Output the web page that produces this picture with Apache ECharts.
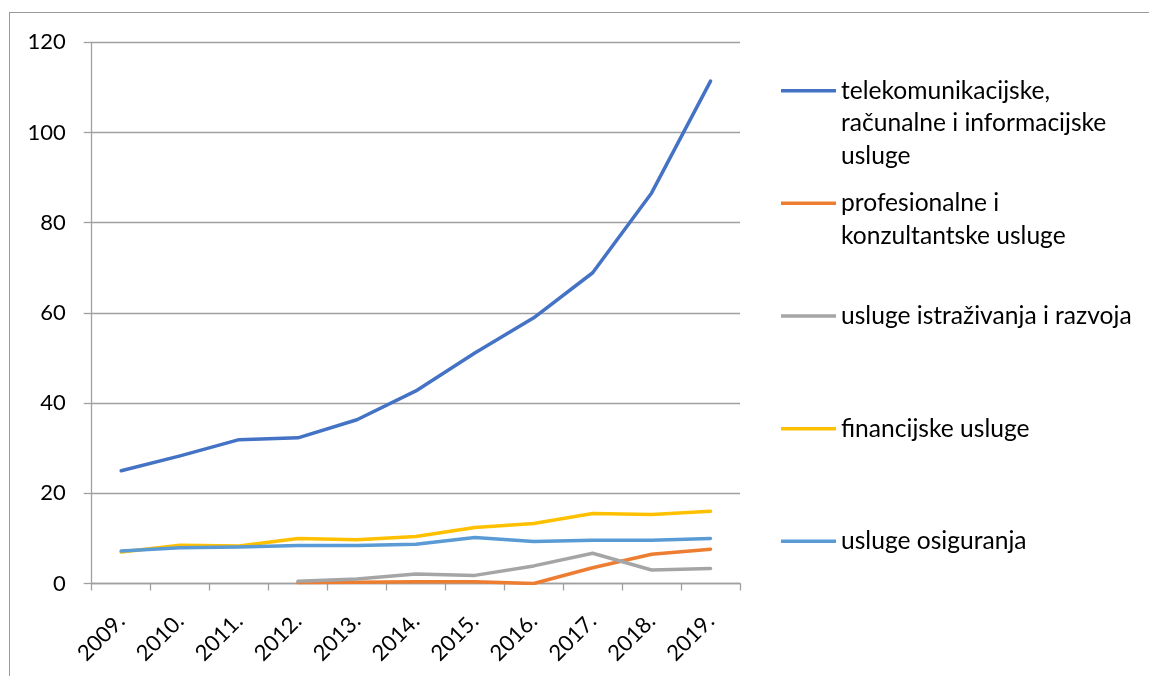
<!DOCTYPE html>
<html>
<head>
<meta charset="utf-8">
<script src="https://cdn.jsdelivr.net/npm/echarts@6/dist/echarts.min.js"></script>
<style>
  html, body { margin: 0; padding: 0; background: #fff; }
  #frame { position: absolute; left: 9px; top: 12px; width: 1200px; height: 700px; border-left: 1.5px solid #9a9a9a; border-top: 1.5px solid #9a9a9a; }
  #chart { position: absolute; left: 0; top: 0; width: 1149px; height: 676px; }
</style>
</head>
<body>
<div id="frame"></div>
<div id="chart"></div>
<script>
const years = ['2009.', '2010.', '2011.', '2012.', '2013.', '2014.', '2015.', '2016.', '2017.', '2018.', '2019.'];
const telekom = [25.0, 28.3, 31.9, 32.3, 36.3, 42.7, 51.1, 58.9, 68.9, 86.6, 111.4];
const profesionalne = [null, null, null, 0.2, 0.3, 0.4, 0.4, 0.0, 3.5, 6.5, 7.6];
const istrazivanje = [null, null, null, 0.5, 1.0, 2.1, 1.8, 3.9, 6.7, 3.0, 3.3];
const financijske = [7.0, 8.5, 8.3, 10.0, 9.7, 10.4, 12.4, 13.3, 15.5, 15.3, 16.0];
const osiguranje = [7.2, 7.9, 8.1, 8.4, 8.4, 8.7, 10.2, 9.3, 9.6, 9.6, 10.0];
const yTicks = [0, 20, 40, 60, 80, 100, 120];

const names = [
  'telekomunikacijske,\nračunalne i informacijske\nusluge',
  'profesionalne i\nkonzultantske usluge',
  'usluge istraživanja i razvoja',
  'financijske usluge',
  'usluge osiguranja'
];
const colors = ['#4472C4', '#ED7D31', '#A5A5A5', '#FFC000', '#5B9BD5'];
const values = [telekom, profesionalne, istrazivanje, financijske, osiguranje];

const FONT = 'Lato';
const LH = 32.7;
const iconCenters = [90.7, 203.3, 316, 428.7, 541.3];

const legends = names.map((n, i) => {
  const lines = n.split('\n').length;
  return {
    orient: 'vertical',
    left: 781,
    top: iconCenters[i] - (2 * lines - 1) * LH / 2,
    padding: 0,
    icon: 'rect',
    itemWidth: 55,
    itemHeight: 3.5,
    itemGap: 0,
    selectedMode: false,
    data: [n],
    formatter: function (name) { return '\n'.repeat(lines - 1) + name; },
    textStyle: {
      fontFamily: FONT,
      fontSize: 24.6,
      color: '#000',
      lineHeight: LH
    }
  };
});

const chart = echarts.init(document.getElementById('chart'), null, { renderer: 'canvas' });
chart.setOption({
  animation: false,
  color: colors,
  grid: { left: 91.7, right: 409, top: 42.3, bottom: 92.5, containLabel: false },
  legend: legends,
  xAxis: {
    type: 'category',
    data: years,
    boundaryGap: true,
    axisLine: { show: true, lineStyle: { color: '#a0a0a0', width: 1.3 } },
    axisTick: { show: true, length: 7, lineStyle: { color: '#a0a0a0', width: 1.3 } },
    axisLabel: { rotate: 45, margin: 34, fontFamily: FONT, fontSize: 22, color: '#000' },
    splitLine: { show: false }
  },
  yAxis: {
    type: 'value',
    min: yTicks[0],
    max: yTicks[yTicks.length - 1],
    interval: 20,
    axisLine: { show: true, lineStyle: { color: '#a0a0a0', width: 1.3 } },
    axisTick: { show: true, length: 8, lineStyle: { color: '#a0a0a0', width: 1.3 } },
    axisLabel: { margin: 26, fontFamily: FONT, fontSize: 22, color: '#000' },
    splitLine: { show: true, lineStyle: { color: '#a0a0a0', width: 1.3 } }
  },
  series: names.map((n, i) => ({
    name: n,
    type: 'line',
    data: values[i],
    symbol: 'none',
    connectNulls: false,
    lineStyle: { width: 3.5, color: colors[i], cap: 'round', join: 'round' },
    itemStyle: { color: colors[i] }
  }))
});
</script>
</body>
</html>
